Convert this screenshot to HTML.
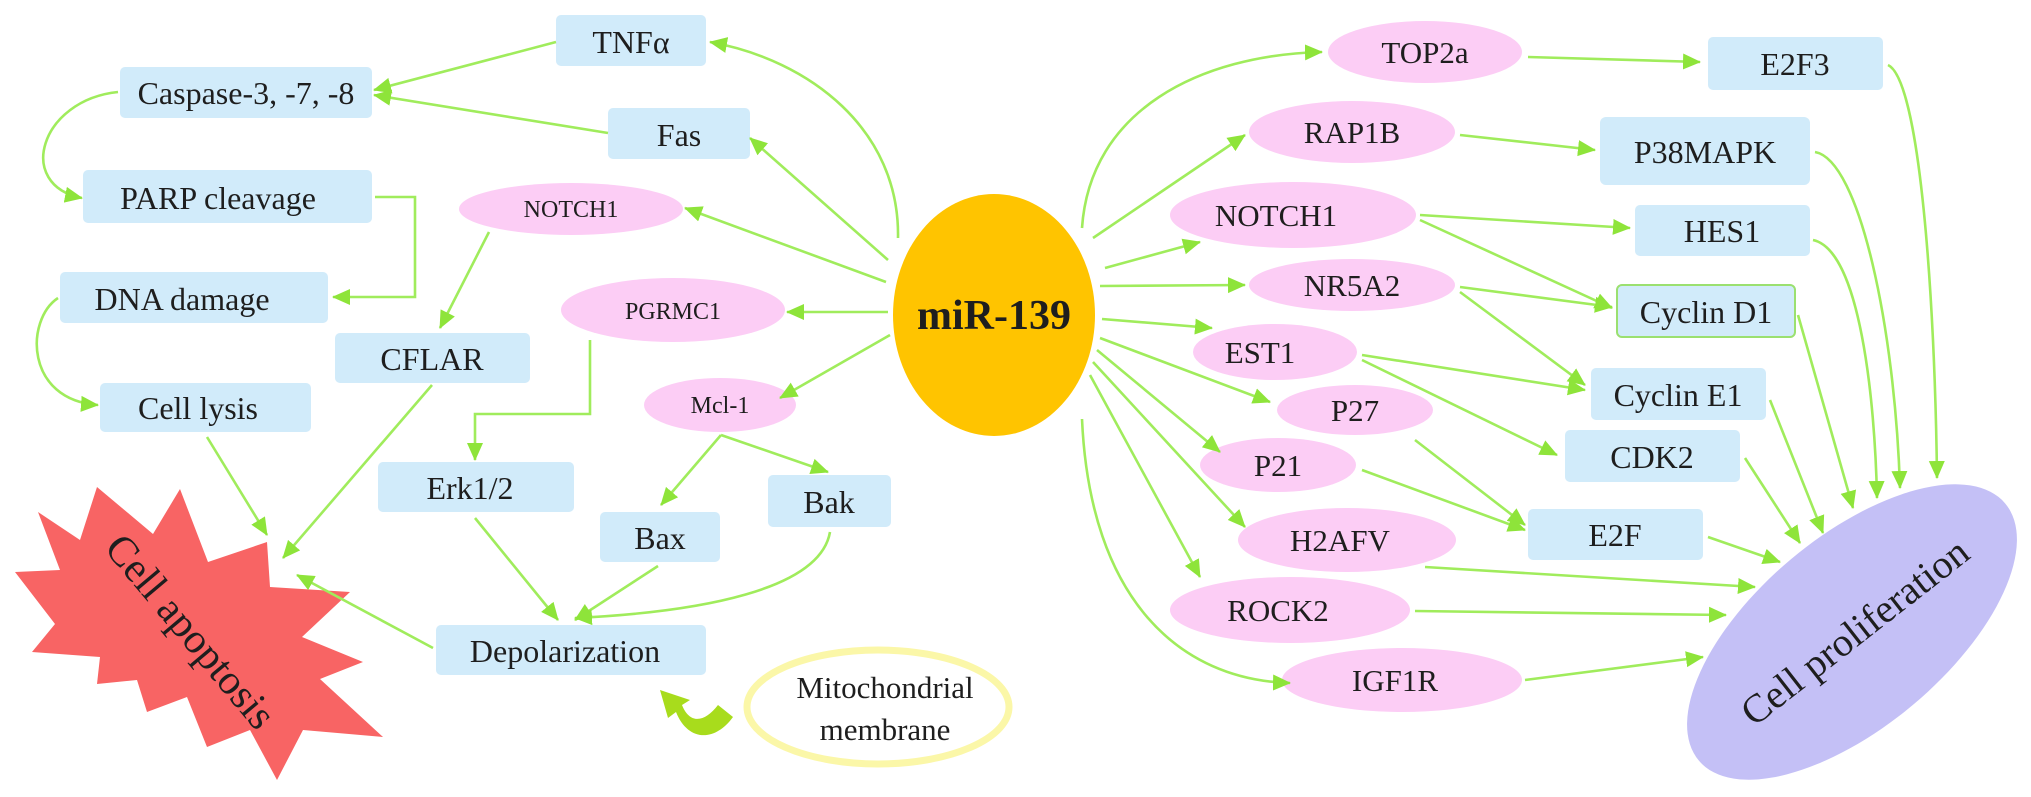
<!DOCTYPE html>
<html><head><meta charset="utf-8"><style>
html,body{margin:0;padding:0;background:#fff}
svg{display:block;font-family:"Liberation Serif","DejaVu Serif","Times New Roman",serif}
svg text{font-family:"Liberation Serif","DejaVu Serif","Times New Roman",serif;fill:#1e1e1e}
</style></head><body>
<svg width="2031" height="797" viewBox="0 0 2031 797" xmlns="http://www.w3.org/2000/svg" font-family="Liberation Serif, DejaVu Serif, serif">
<defs>
<marker id="a" markerUnits="userSpaceOnUse" markerWidth="20" markerHeight="18" refX="17" refY="9" orient="auto">
<path d="M0,1 L18,9 L0,17 Z" fill="#8ee43a"/>
</marker>
</defs>

<polygon fill="#f86464" points="15,572 60,570 38,512 80,540 97,487 153,534 180,489 208,562 267,542 270,587 350,592 302,637 363,662 320,679 383,737 303,730 277,780 250,730 207,747 187,697 147,712 137,680 97,684 100,657 32,652 55,624"/>
<text x="190" y="645" font-size="42" text-anchor="middle" transform="rotate(50 190 632)">Cell apoptosis</text>

<ellipse cx="1852" cy="632" rx="200" ry="95" fill="#c4c0f6" transform="rotate(-40 1852 632)"/>
<text x="1855" y="645" font-size="40" text-anchor="middle" transform="rotate(-38 1855 632)">Cell proliferation</text>

<g fill="#d1ebfa">
<rect x="120" y="67" width="252" height="51" rx="5"/>
<rect x="556" y="15" width="150" height="51" rx="5"/>
<rect x="608" y="108" width="142" height="51" rx="5"/>
<rect x="83" y="170" width="289" height="53" rx="5"/>
<rect x="60" y="272" width="268" height="51" rx="5"/>
<rect x="335" y="333" width="195" height="50" rx="5"/>
<rect x="100" y="383" width="211" height="49" rx="5"/>
<rect x="378" y="462" width="196" height="50" rx="5"/>
<rect x="768" y="475" width="123" height="52" rx="5"/>
<rect x="600" y="512" width="120" height="50" rx="5"/>
<rect x="436" y="625" width="270" height="50" rx="5"/>
<rect x="1708" y="37" width="175" height="53" rx="5"/>
<rect x="1600" y="117" width="210" height="68" rx="6"/>
<rect x="1635" y="205" width="175" height="51" rx="5"/>
<rect x="1617" y="285" width="178" height="52" rx="5" stroke="#9be070" stroke-width="2"/>
<rect x="1591" y="368" width="175" height="52" rx="5"/>
<rect x="1565" y="430" width="175" height="52" rx="5"/>
<rect x="1528" y="509" width="175" height="51" rx="5"/>
</g>

<g fill="#fccdf5">
<ellipse cx="571" cy="209" rx="112" ry="26"/>
<ellipse cx="673" cy="310" rx="112" ry="32"/>
<ellipse cx="720" cy="405" rx="76" ry="27"/>
<ellipse cx="1425" cy="52" rx="97" ry="31"/>
<ellipse cx="1352" cy="132" rx="103" ry="31"/>
<ellipse cx="1293" cy="215" rx="123" ry="33"/>
<ellipse cx="1352" cy="285" rx="103" ry="26"/>
<ellipse cx="1275" cy="352" rx="82" ry="28"/>
<ellipse cx="1355" cy="410" rx="78" ry="25"/>
<ellipse cx="1278" cy="465" rx="78" ry="27"/>
<ellipse cx="1347" cy="540" rx="109" ry="32"/>
<ellipse cx="1290" cy="610" rx="120" ry="33"/>
<ellipse cx="1402" cy="680" rx="120" ry="32"/>
</g>

<ellipse cx="994" cy="315" rx="101" ry="121" fill="#ffc400"/>
<text x="994" y="329" font-size="42" font-weight="bold" text-anchor="middle" fill="#111">miR-139</text>

<ellipse cx="878" cy="707" rx="131" ry="57" fill="#fff" stroke="#fbf7a8" stroke-width="7"/>
<text x="885" y="698" font-size="31" text-anchor="middle">Mitochondrial</text>
<text x="885" y="740" font-size="31" text-anchor="middle">membrane</text>
<path d="M733,717 L718,705 C705,722 690,725 682,705 L690,700 L660,690 L668,718 L676,712 C688,742 715,742 733,717 Z" fill="#a8dc1c"/>

<g fill="none" stroke="#a0ec5c" stroke-width="2.6" marker-end="url(#a)">
<path d="M556,42 L374,90"/>
<path d="M608,133 L374,95"/>
<path d="M898,238 C900,130 810,60 710,42"/>
<path d="M888,260 L750,138"/>
<path d="M886,282 L685,208"/>
<path d="M888,312 L787,312"/>
<path d="M890,335 L780,398"/>
<path d="M118,92 C40,100 15,185 82,198"/>
<path d="M375,197 L415,197 L415,297 L333,297"/>
<path d="M58,298 C25,320 25,400 98,405"/>
<path d="M489,232 L440,328"/>
<path d="M590,340 L590,414 L475,414 L475,460"/>
<path d="M432,385 L283,558"/>
<path d="M207,437 L267,535"/>
<path d="M433,648 L297,575"/>
<path d="M721,435 L661,505"/>
<path d="M721,435 L828,472"/>
<path d="M475,518 L558,620"/>
<path d="M658,566 L575,620"/>
<path d="M830,532 C820,590 700,612 575,618"/>
<path d="M1082,228 C1090,110 1200,55 1322,52"/>
<path d="M1093,238 L1245,135"/>
<path d="M1105,268 L1200,242"/>
<path d="M1100,286 L1245,285"/>
<path d="M1102,319 L1212,328"/>
<path d="M1100,338 L1270,402"/>
<path d="M1097,350 L1220,452"/>
<path d="M1093,362 L1245,527"/>
<path d="M1090,375 L1200,577"/>
<path d="M1082,419 C1090,600 1180,680 1290,683"/>
<path d="M1528,57 L1700,62"/>
<path d="M1460,135 L1595,150"/>
<path d="M1420,215 L1630,228"/>
<path d="M1420,220 L1612,308"/>
<path d="M1460,287 L1612,307"/>
<path d="M1460,292 L1585,385"/>
<path d="M1362,355 L1585,390"/>
<path d="M1362,360 L1557,455"/>
<path d="M1415,440 L1525,525"/>
<path d="M1362,470 L1525,530"/>
<path d="M1888,65 C1920,80 1935,300 1937,478"/>
<path d="M1815,152 C1860,160 1895,330 1900,488"/>
<path d="M1813,240 C1860,250 1875,400 1877,498"/>
<path d="M1798,315 L1853,508"/>
<path d="M1770,400 L1823,533"/>
<path d="M1745,458 L1800,543"/>
<path d="M1708,537 L1780,562"/>
<path d="M1425,567 L1755,587"/>
<path d="M1415,611 L1726,615"/>
<path d="M1525,680 L1703,657"/>
</g>

<g font-size="32" text-anchor="middle">
<text x="246" y="104">Caspase-3, -7, -8</text>
<text x="631" y="53">TNFα</text>
<text x="679" y="146">Fas</text>
<text x="218" y="209">PARP cleavage</text>
<text x="182" y="310">DNA damage</text>
<text x="432" y="370">CFLAR</text>
<text x="198" y="419">Cell lysis</text>
<text x="470" y="499">Erk1/2</text>
<text x="829" y="513">Bak</text>
<text x="660" y="549">Bax</text>
<text x="565" y="662">Depolarization</text>
<text x="1795" y="75">E2F3</text>
<text x="1705" y="163">P38MAPK</text>
<text x="1722" y="242">HES1</text>
<text x="1706" y="323">Cyclin  D1</text>
<text x="1678" y="406">Cyclin E1</text>
<text x="1652" y="468">CDK2</text>
<text x="1615" y="546">E2F</text>
</g>
<g font-size="24" text-anchor="middle">
<text x="571" y="217">NOTCH1</text>
<text x="673" y="319">PGRMC1</text>
<text x="720" y="413">Mcl-1</text>
</g>
<g font-size="31" text-anchor="middle">
<text x="1425" y="63">TOP2a</text>
<text x="1352" y="143">RAP1B</text>
<text x="1276" y="226">NOTCH1</text>
<text x="1352" y="296">NR5A2</text>
<text x="1260" y="363">EST1</text>
<text x="1355" y="421">P27</text>
<text x="1278" y="476">P21</text>
<text x="1340" y="551">H2AFV</text>
<text x="1278" y="621">ROCK2</text>
<text x="1395" y="691">IGF1R</text>
</g>
</svg>
</body></html>
